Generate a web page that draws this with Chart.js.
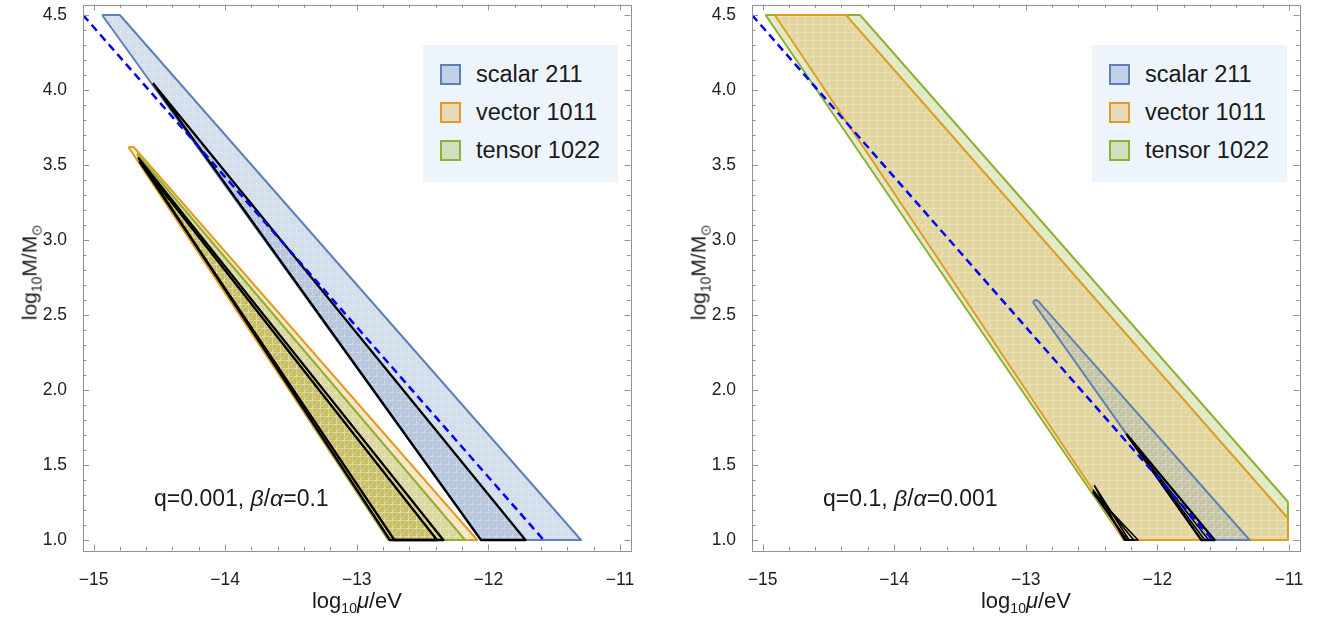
<!DOCTYPE html>
<html>
<head>
<meta charset="utf-8">
<title>Superradiance windows</title>
<script src="https://cdn.jsdelivr.net/npm/chart.js@4.4.1/dist/chart.umd.min.js"></script>
<style>
  html, body { margin: 0; padding: 0; background: #fff; }
  body { width: 1329px; height: 622px; position: relative; overflow: hidden;
         font-family: "Liberation Sans", Arial, Helvetica, sans-serif; color: #1a1a1a; }
  .panel { position: absolute; top: 0; width: 660px; height: 622px; }
  .panel canvas { position: absolute; left: 0; top: 0; }
  .txt { position: absolute; white-space: nowrap; line-height: 1; }
  .xtitle { font-size: 22px; left: 357px; top: 590px; transform: translateX(-50%); }
  .ytitle { font-size: 21px; left: 29px; top: 272px; transform: translate(-50%, -50%) rotate(-90deg); }
  .xtitle sub, .ytitle sub { font-size: 14px; vertical-align: -5px; line-height: 0; }
  .note { font-size: 23px; left: 154px; top: 487px; }
  .legend { position: absolute; left: 423px; top: 45px; width: 195px; height: 137px; background: #edf4fc; }
  .legend .row { position: absolute; left: 0; height: 21px; width: 195px; }
  .legend .sw { position: absolute; left: 17px; top: 0; width: 17px; height: 17px; border: 2px solid; }
  .legend .lab { position: absolute; left: 53px; top: 0; font-size: 23.5px; line-height: 21px; }
</style>
</head>
<body>

<div class="panel" id="panelLeft">
  <canvas id="chartLeft" width="660" height="622"></canvas>
  <div class="txt ytitle">log<sub>10</sub>M/M<sub>⊙</sub></div>
  <div class="txt xtitle">log<sub>10</sub><i>μ</i>/eV</div>
  <div class="txt note">q=0.001, <i>β</i>/<i>α</i>=0.1</div>
  <div class="legend"></div>
</div>

<div class="panel" id="panelRight" style="left:669px">
  <canvas id="chartRight" width="660" height="622"></canvas>
  <div class="txt ytitle">log<sub>10</sub>M/M<sub>⊙</sub></div>
  <div class="txt xtitle">log<sub>10</sub><i>μ</i>/eV</div>
  <div class="txt note">q=0.1, <i>β</i>/<i>α</i>=0.001</div>
  <div class="legend"></div>
</div>

<script>
// axes
const xTicks = [-15, -14, -13, -12, -11];
const yTicks = [1.0, 1.5, 2.0, 2.5, 3.0, 3.5, 4.0, 4.5];
const xRange = [-15.08, -10.92];
const yRange = [0.93, 4.57];

const legendLabels = ['scalar 211', 'vector 1011', 'tensor 1022'];

// reference line M ~ 1/mu (both panels)
const dashLine = [[-15.08, 4.5], [-11.58, 1.0]];

// left panel: q=0.001, beta/alpha=0.1
const scalarL = [[-14.935, 4.5], [-14.80, 4.5], [-11.296, 1.0], [-12.056, 1.0]];
const scalarL_core = [[-14.548, 4.045], [-12.056, 1.0], [-11.718, 1.0]];
const vectorL = [[-14.735, 3.62], [-14.695, 3.62], [-12.085, 1.0], [-12.76, 1.0]];
const tensorL = [[-14.67, 3.575], [-12.177, 1.0], [-12.76, 1.0]];
const coreL_outer = [[-14.662, 3.551], [-12.748, 1.0], [-12.342, 1.0]];
const coreL_inner = [[-14.652, 3.525], [-12.714, 1.0], [-12.390, 1.0]];

// right panel: q=0.1, beta/alpha=0.001
const tensorR = [[-14.977, 4.5], [-14.259, 4.5], [-11.008, 1.255], [-11.008, 1.0], [-12.254, 1.0]];
const vectorR = [[-14.907, 4.5], [-14.366, 4.5], [-11.008, 1.145], [-11.008, 1.0], [-12.254, 1.0], [-12.51, 1.36]];
const scalarR = [[-12.945, 2.585], [-12.935, 2.598], [-12.918, 2.600], [-12.900, 2.588],
                 [-11.299, 1.0], [-11.666, 1.0], [-12.236, 1.708]];
const coreR_a = [[-12.236, 1.708], [-11.666, 1.0], [-11.565, 1.0]];
const coreR_a2 = [[-12.226, 1.690], [-11.640, 1.0], [-11.610, 1.0]];
const coreR_b1 = [[-12.480, 1.365], [-12.250, 1.0], [-12.215, 1.0]];
const coreR_b2 = [[-12.490, 1.335], [-12.240, 1.0], [-12.180, 1.0]];
const coreR_b3 = [[-12.492, 1.320], [-12.228, 1.0], [-12.147, 1.0]];

const BLUE = '94,129,181', ORANGE = '225,156,36', GREEN = '143,176,50', OLIVE = '170,155,15';
const FRAME = '#939393';

// light cross-hatched fill, like the rasterised region fills
function hatch(rgb, alpha) {
  const c = document.createElement('canvas');
  c.width = 8; c.height = 8;
  const g = c.getContext('2d');
  g.fillStyle = 'rgba(' + rgb + ',' + alpha + ')';
  g.fillRect(0, 0, 8, 8);
  g.strokeStyle = 'rgba(255,255,255,0.16)';
  g.lineWidth = 1;
  g.beginPath();
  g.moveTo(0, 0.5); g.lineTo(8, 0.5);
  g.moveTo(0.5, 0); g.lineTo(0.5, 8);
  g.moveTo(0, 8); g.lineTo(8, 0);
  g.stroke();
  return g.createPattern(c, 'repeat');
}

function poly(pts, border, width, fill) {
  const data = pts.map(p => ({ x: p[0], y: p[1] }));
  data.push({ x: pts[0][0], y: pts[0][1] });
  return {
    data: data,
    borderColor: border,
    borderWidth: width,
    backgroundColor: fill || 'rgba(0,0,0,0)',
    fill: fill ? 'shape' : false,
    pointRadius: 0,
    tension: 0,
    borderJoinStyle: 'round'
  };
}

function dashed(pts) {
  return {
    data: pts.map(p => ({ x: p[0], y: p[1] })),
    borderColor: '#0000ff',
    borderWidth: 2.5,
    borderDash: [8, 5],
    fill: false,
    pointRadius: 0,
    tension: 0
  };
}

// datasets are listed bottom to top
function stack(list) {
  list.forEach((ds, i) => { ds.order = list.length - i; });
  return list;
}

const fmt = v => (v < 0 ? '\u2212' : '') + Math.abs(v);

// frame with inward ticks on all four sides
const frameTicks = {
  id: 'frameTicks',
  afterDatasetsDraw(chart) {
    const ctx = chart.ctx, a = chart.chartArea;
    const sx = chart.scales.x, sy = chart.scales.y;
    ctx.save();
    ctx.strokeStyle = FRAME;
    ctx.lineWidth = 1;
    ctx.beginPath();
    for (let k = 0; k <= 20; k++) {
      const v = -15 + k * 0.2;
      const len = k % 5 === 0 ? 6 : 3.5;
      const px = Math.round(sx.getPixelForValue(v)) + 0.5;
      ctx.moveTo(px, a.bottom); ctx.lineTo(px, a.bottom - len);
      ctx.moveTo(px, a.top); ctx.lineTo(px, a.top + len);
    }
    for (let k = 0; k <= 35; k++) {
      const v = 1 + k * 0.1;
      const len = k % 5 === 0 ? 6 : 3.5;
      const py = Math.round(sy.getPixelForValue(v)) + 0.5;
      ctx.moveTo(a.left, py); ctx.lineTo(a.left + len, py);
      ctx.moveTo(a.right, py); ctx.lineTo(a.right - len, py);
    }
    ctx.stroke();
    ctx.strokeRect(Math.round(a.left) + 0.5, Math.round(a.top) + 0.5,
                   Math.round(a.right - a.left), Math.round(a.bottom - a.top));
    ctx.restore();
  }
};

function options() {
  const tickFont = { family: '"Liberation Sans", Arial, sans-serif', size: 17.5 };
  return {
    responsive: false,
    animation: false,
    events: [],
    layout: { padding: { left: 0, right: 29.5, top: 4.5, bottom: 0 } },
    plugins: { legend: { display: false }, tooltip: { enabled: false } },
    scales: {
      x: {
        type: 'linear', min: xRange[0], max: xRange[1],
        grid: { display: false }, border: { display: false },
        afterBuildTicks: s => { s.ticks = xTicks.map(v => ({ value: v })); },
        afterFit: s => { s.height = 71.5; s.paddingLeft = 0; s.paddingRight = 0; },
        ticks: { color: '#222', font: tickFont, padding: 11, maxRotation: 0, callback: v => fmt(v) }
      },
      y: {
        type: 'linear', min: yRange[0], max: yRange[1],
        grid: { display: false }, border: { display: false },
        afterBuildTicks: s => { s.ticks = yTicks.map(v => ({ value: v })); },
        afterFit: s => { s.width = 83; s.paddingTop = 0; s.paddingBottom = 0; },
        ticks: { color: '#222', font: tickFont, padding: 8, callback: v => v.toFixed(1) }
      }
    }
  };
}

new Chart(document.getElementById('chartLeft'), {
  type: 'line',
  data: { datasets: stack([
    poly(scalarL, 'rgb(' + BLUE + ')', 2, hatch(BLUE, 0.27)),
    poly(scalarL_core, '#000', 2.3, hatch(BLUE, 0.25)),
    poly(vectorL, 'rgb(' + ORANGE + ')', 2, hatch(ORANGE, 0.27)),
    poly(tensorL, 'rgb(' + GREEN + ')', 2, hatch(GREEN, 0.27)),
    poly(coreL_outer, '#000', 2.3, hatch(OLIVE, 0.24)),
    poly(coreL_inner, '#000', 2.3, hatch(OLIVE, 0.2)),
    dashed(dashLine)
  ]) },
  options: options(),
  plugins: [frameTicks]
});

new Chart(document.getElementById('chartRight'), {
  type: 'line',
  data: { datasets: stack([
    poly(tensorR, 'rgb(' + GREEN + ')', 2, hatch(GREEN, 0.28)),
    poly(vectorR, 'rgb(' + ORANGE + ')', 2, hatch(ORANGE, 0.26)),
    poly(scalarR, 'rgb(' + BLUE + ')', 2, hatch(BLUE, 0.22)),
    poly(coreR_a, '#000', 2.3, hatch(BLUE, 0.2)),
    poly(coreR_a2, '#000', 1.5),
    poly(coreR_b1, '#000', 1.6),
    poly(coreR_b2, '#000', 1.6),
    poly(coreR_b3, '#000', 1.6),
    dashed(dashLine)
  ]) },
  options: options(),
  plugins: [frameTicks]
});

// legends (inset in each panel)
const legendColors = [BLUE, ORANGE, GREEN];
document.querySelectorAll('.legend').forEach(box => {
  legendLabels.forEach((name, i) => {
    const row = document.createElement('div');
    row.className = 'row';
    row.style.top = (18.5 + i * 38.3) + 'px';
    const sw = document.createElement('div');
    sw.className = 'sw';
    sw.style.borderColor = 'rgb(' + legendColors[i] + ')';
    sw.style.background = 'rgba(' + legendColors[i] + ',0.3)';
    const lab = document.createElement('div');
    lab.className = 'lab';
    lab.textContent = name;
    row.appendChild(sw);
    row.appendChild(lab);
    box.appendChild(row);
  });
});
</script>
</body>
</html>
